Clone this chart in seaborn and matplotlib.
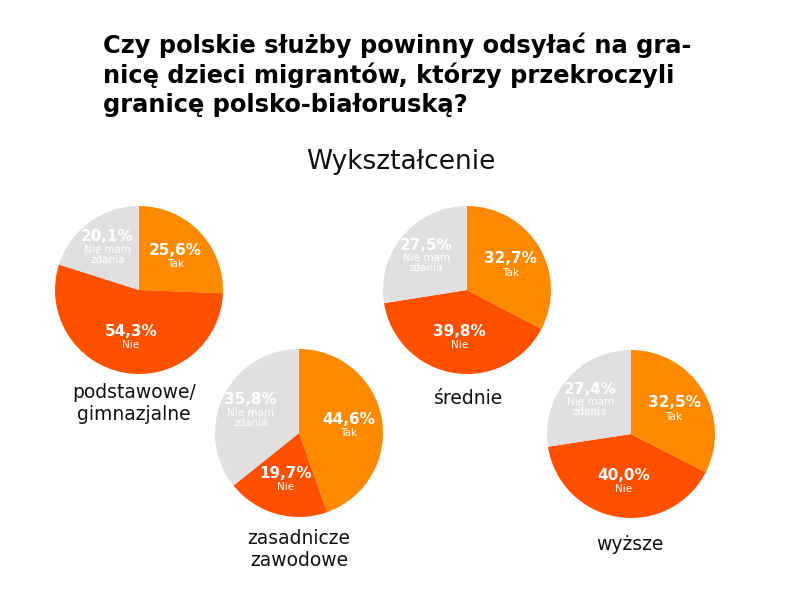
import matplotlib
matplotlib.use("Agg")
import matplotlib.pyplot as plt
import seaborn as sns
import numpy as np

sns.set_theme(style="white")
plt.rcParams['font.family'] = ['DejaVu Sans']

# ---- data ----
groups = ["podstawowe/\ngimnazjalne", "zasadnicze\nzawodowe", "średnie", "wyższe"]
answers = ["Tak", "Nie", "Nie mam\nzdania"]
tak = [25.6, 44.6, 32.7, 32.5]
nie = [54.3, 19.7, 39.8, 40.0]
nmz = [20.1, 35.8, 27.5, 27.4]
title = "Czy polskie służby powinny odsyłać na gra-\nnicę dzieci migrantów, którzy przekroczyli\ngranicę polsko-białoruską?"
subtitle = "Wykształcenie"

# ---- layout (pixel space, y measured from top) ----
W, H = 800, 593
centers = [(139, 290), (299, 433), (467, 290), (631, 434)]
R = 84
group_label_pos = [(134, 404), (299, 550), (469, 399), (630, 545)]
label_r = [0.6, 0.56, 0.64]
colors = ["#FF8A00", "#FF5000", "#E0E0E0"]

fig = plt.figure(figsize=(8, 5.93), dpi=100)
ax = fig.add_axes([0, 0, 1, 1])

def fy(y):
    return H - y

for i, g in enumerate(groups):
    vals = [tak[i], nie[i], nmz[i]]
    cx, cy = centers[i]
    ax.pie(vals, colors=colors, startangle=90, counterclock=False,
           radius=R, center=(cx, fy(cy)), frame=True,
           wedgeprops=dict(linewidth=0))
    cum = 0
    for j, v in enumerate(vals):
        mid = 90 - (cum + v / 2) * 3.6
        cum += v
        rr = R * label_r[j]
        tx = cx + rr * np.cos(np.radians(mid))
        ty = fy(cy) + rr * np.sin(np.radians(mid))
        pct = f"{v:.1f}%".replace(".", ",")
        if j == 2:
            ax.text(tx, ty + 10, pct, color="white", fontsize=11, fontweight="bold",
                    ha="center", va="center")
            ax.text(tx, ty - 8, answers[j], color="white", fontsize=7.5,
                    ha="center", va="center", linespacing=1.0)
        else:
            ax.text(tx, ty + 5, pct, color="white", fontsize=11, fontweight="bold",
                    ha="center", va="center")
            ax.text(tx, ty - 9, answers[j], color="white", fontsize=7.5,
                    ha="center", va="center")
    lx, ly = group_label_pos[i]
    ax.text(lx, fy(ly), g, fontsize=13.5, color="#111111", ha="center", va="center",
            linespacing=1.2)

ax.set_xlim(0, W)
ax.set_ylim(0, H)
ax.set_aspect("equal")
ax.axis("off")

fig.text(103 / W, 1 - 32 / H, title, fontsize=17.4, fontweight="bold", color="#000000",
         ha="left", va="top", linespacing=1.25)
fig.text(401 / W, 1 - 162 / H, subtitle, fontsize=19, color="#111111",
         ha="center", va="center")

fig.savefig("out.png", dpi=100, facecolor="white")
